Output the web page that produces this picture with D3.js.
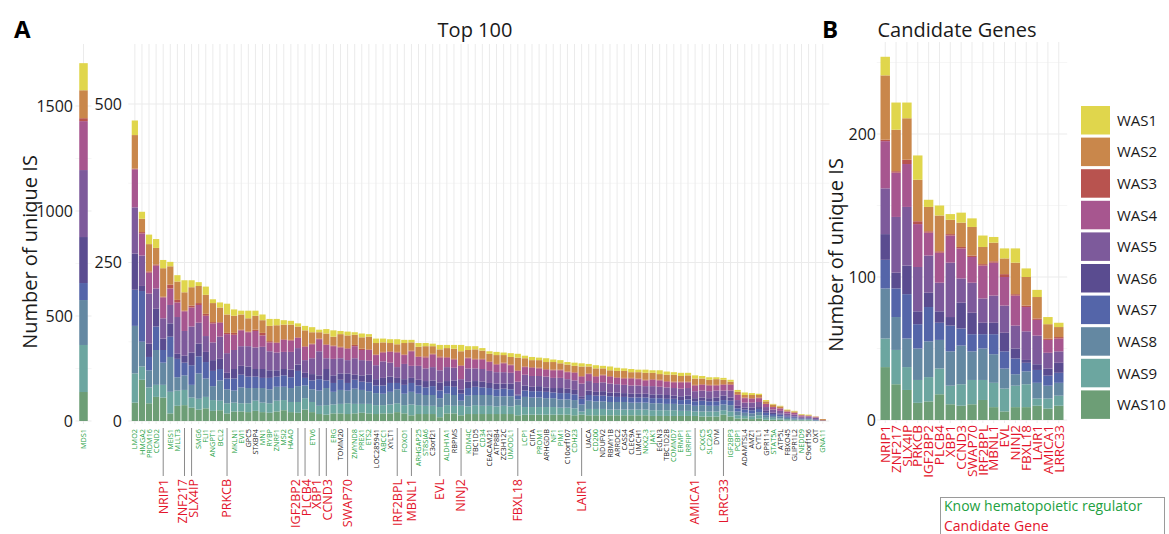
<!DOCTYPE html>
<html><head><meta charset="utf-8">
<script src="https://cdn.jsdelivr.net/npm/d3@7"></script>
<style>body{margin:0;background:#fff;} text{font-family:"Open Sans",sans-serif;}</style>
</head><body><svg id="c" width="1169" height="534"></svg>
<script>
const genes = ["LMO2","HMGA2","PRDM16","CCND2","NRIP1","MEIS1","MLLT3","ZNF217","SLX4IP","SMG6",
"FLI1","ANGPT1","BCL2","PRKCB","MKLN1","EVI1","GPC5","STXBP4","MN1","RYBP",
"ZNRF1","MSI2","HAAO","IGF2BP2","PLCB4","ETV6","XBP1","CCND3","ERG","TOMM20",
"SWAP70","ZMYND8","PREX1","ETS2","LOC285941","ABCC1","XYLT1","IRF2BPL","FOXO1","MBNL1",
"ARHGAP25","ST8SIA6","C3orf21","EVL","ALDH1A1","RBPMS","NINJ2","KDM4C","TBC1D5","CD34",
"CEACAM21","ATP8B4","ZC3H12C","UMODL1","FBXL18","LCP1","CIITA","PROM1","ARHGDIB","NF1",
"PIM1","C10orf107","CDH23","LAIR1","UACA","CD200","NDUFV2","RBMY1B","ARRDC2","CASS4",
"CLEC9A","LIMCH1","NKX2-3","JAK1","EGLN3","TBC1D2B","COMMD7","ERMP1","LRRFIP1","AMICA1",
"CXXC5","SLC2A5","DYM","LRRC33","IGF2BP3","PCBP1","ADAMTSL4","AMZ1","CYTL1","GPR114",
"STAT5A","ATP5L","FBXO45","GLIPR1L2","NEDD9","C9orf156","OXT","GNA11"];
const knownRegulators = ["MDS1","LMO2","HMGA2","PRDM16","CCND2","MEIS1","MLLT3","SMG6","FLI1","ANGPT1","BCL2",
"MKLN1","EVI1","MN1","RYBP","ZNRF1","MSI2","HAAO","ETV6","ERG","ZMYND8","PREX1","ETS2","ABCC1","FOXO1",
"ARHGAP25","ST8SIA6","ALDH1A1","KDM4C","CD34","UMODL1","LCP1","PROM1","NF1","PIM1","CDH23","CD200",
"NKX2-3","JAK1","COMMD7","ERMP1","LRRFIP1","CXXC5","SLC2A5","IGF2BP3","PCBP1","STAT5A","NEDD9","GNA11"];
const candidates = ["NRIP1","ZNF217","SLX4IP","PRKCB","IGF2BP2","PLCB4","XBP1","CCND3","SWAP70","IRF2BPL",
"MBNL1","EVL","NINJ2","FBXL18","LAIR1","AMICA1","LRRC33"];
const seriesNames = ["WAS1","WAS2","WAS3","WAS4","WAS5","WAS6","WAS7","WAS8","WAS9","WAS10"];
const seriesColors = ["#e0d64c","#c9874b","#b8534f","#a7568f","#7d5a9b","#5a4c90","#5465a9","#6488a2","#6ca6a0","#6d9e76"];

const was1 = [23,11,15,14,13,7,10,19,11,6, 13,6,8,17,10,6,12,8,9,11, 10,7,6,5,7,8,4,7,10,5, 6,4,6,4,7,6,6,8,5,4,
 6,5,4,7,5,6,10,6,5,4, 4,5,4,6,6,4,5,4,6,4, 5,4,5,5,4,5,4,6,5,4, 5,4,5,4,6,5,4,5,4,5, 4,4,3,3,3,3,4,3,2,2, 1,1,1,1,1,1,0,0];
const was2 = [53,21,43,26,45,29,29,29,29,27, 30,30,23,29,27,24,21,22,20,24, 27,23,24,17,25,18,10,17,14,20, 20,16,18,20,18,15,13,12,18,13,
 15,16,12,11,14,16,22,12,15,13, 12,14,12,12,20,13,11,12,11,12, 10,11,10,15,11,12,10,9,10,11, 9,10,11,10,9,10,11,9,10,10, 9,8,9,7,4,4,4,5,4,4, 4,3,2,2,1,1,1,2];
const was3 = [1,2,2,2,1,6,4,1,3,3, 3,2,1,2,3,1,1,2,4,2, 1,1,1,1,1,1,1,1,1,1, 1,2,2,1,1,1,1,1,1,1,
 1,2,1,2,1,1,1,1,1,1, 1,1,1,1,1,1,1,1,1,1, 1,1,1,1,1,1,1,1,1,1, 1,1,1,1,1,1,1,1,1,1, 1,1,1,1,1,1,1,1,1,0, 0,0,0,0,0,0,0,0];
const was4 = [60,35,33,36,33,26,23,31,30,28, 32,30,22,30,24,25,22,26,18,14, 15,19,18,16,21,22,19,21,20,17, 18,19,16,17,16,14,17,23,14,23,
 14,17,20,20,15,13,21,16,14,15, 14,12,14,12,17,12,13,12,11,12, 12,11,12,11,11,10,11,11,10,10, 11,10,9,10,10,9,9,10,9,9, 9,9,8,9,9,8,7,6,6,5, 4,4,3,3,2,1,1,0];
const was5 = [73,48,79,32,32,29,58,39,41,33, 25,28,35,31,30,31,32,34,35,30, 28,27,28,26,20,25,38,17,26,24, 21,26,24,22,22,26,22,17,24,19,
 22,20,21,19,22,20,16,21,20,20, 19,18,18,17,20,17,17,16,17,16, 16,15,15,20,15,14,14,14,13,13, 13,13,12,13,12,12,12,12,12,11, 11,11,11,8,11,9,8,8,8,6, 5,4,3,3,2,2,2,1];
const was6 = [57,8,21,28,18,21,8,11,20,20, 16,17,16,9,15,14,16,12,14,12, 10,10,12,10,8,10,6,18,12,10, 15,8,10,12,10,12,10,8,9,8,
 9,10,9,13,8,10,7,10,9,9, 8,9,8,9,2,8,7,8,7,7, 8,7,7,4,7,6,7,6,7,6, 6,6,6,6,6,6,5,6,6,5, 5,5,6,7,5,4,3,4,3,3, 2,2,2,1,1,1,1,0];
const was7 = [57,80,21,37,20,32,29,20,31,27, 26,24,18,17,19,20,18,18,16,18, 16,18,17,24,12,14,18,12,14,16, 12,14,13,14,12,13,14,10,14,14,
 13,12,14,12,12,13,11,12,13,12, 11,11,12,11,6,10,10,10,10,9, 10,10,9,9,9,9,9,9,8,8, 8,8,8,8,8,8,8,7,8,7, 7,7,7,7,7,5,5,5,5,4, 3,3,2,2,1,1,1,0];
const was8 = [75,39,27,55,35,55,21,23,20,40, 29,22,32,22,19,25,24,20,23,22, 22,21,22,25,20,20,24,27,20,22, 20,24,22,20,19,18,20,22,18,20,
 18,17,17,14,18,17,8,17,16,17, 17,16,15,16,9,16,15,15,14,14, 13,13,13,11,13,12,12,12,12,12, 11,11,11,11,11,10,10,10,10,9, 10,9,9,9,10,6,5,5,5,4, 3,3,2,2,1,1,0,0];
const was9 = [46,21,25,19,20,34,24,24,16,17, 18,17,15,16,14,13,14,16,15,15, 17,16,16,17,18,16,13,15,14,15, 17,15,14,15,14,13,14,14,13,17,
 14,13,13,16,13,12,15,12,14,13, 13,12,13,12,16,12,12,12,12,12, 11,11,11,5,10,10,10,9,9,9, 9,9,9,9,9,9,9,8,8,7, 8,8,8,7,8,5,4,4,5,3, 3,2,2,1,1,1,1,0];
const was10 = [29,65,28,38,37,12,24,25,21,18, 20,16,17,12,15,15,14,16,14,13, 15,17,14,13,18,14,11,10,12,12, 11,12,13,12,11,12,12,14,12,9,
 11,11,11,6,12,12,9,11,11,11, 11,11,11,11,9,10,10,10,10,10, 10,10,9,10,9,9,9,9,9,9, 9,9,9,8,8,8,8,8,8,8, 7,7,7,10,7,4,4,3,4,2, 2,2,1,1,1,1,0,0];
// MDS1 (inset, own scale): WAS1..WAS10
const mds1Values = [129,133,14,233,319,219,81,214,224,138];

const mainTicks = [0,250,500];
const insetTicks = [0,500,1000,1500];
const candTicks = [0,100,200];

const series = [was1,was2,was3,was4,was5,was6,was7,was8,was9,was10];
const svg = d3.select("#c");
const GREEN = "#22a041", RED = "#e3142b", GRID = "#ebebeb";
const stackKeys = seriesNames.slice().reverse();
const color = d3.scaleOrdinal().domain(seriesNames).range(seriesColors);

function row(name, vals){ const o={gene:name}; seriesNames.forEach((s,j)=>o[s]=vals[j]); return o; }
const mainRows = genes.map((g,i)=>row(g, series.map(s=>s[i])));
const candRows = candidates.map(c=>mainRows[genes.indexOf(c)]);
const insetRows = [row("MDS1", mds1Values)];
const stack = d3.stack().keys(stackKeys);

function panel(rows, x, y, top, ticks, minor, tickX){
  const g = svg.append("g");
  const x0 = x.range()[0]-3, x1 = x.range()[1]+3;
  minor.forEach(v=>g.append("line").attr("x1",x0).attr("x2",x1).attr("y1",y(v)).attr("y2",y(v)).attr("stroke","#f2f2f2").attr("stroke-width",0.7));
  ticks.forEach(v=>g.append("line").attr("x1",x0).attr("x2",x1).attr("y1",y(v)).attr("y2",y(v)).attr("stroke",GRID).attr("stroke-width",1));
  g.selectAll(".vg").data(rows).join("line").attr("x1",d=>x(d.gene)+x.bandwidth()/2).attr("x2",d=>x(d.gene)+x.bandwidth()/2)
    .attr("y1",top).attr("y2",y(0)+3).attr("stroke",GRID).attr("stroke-width",1);
  g.selectAll(".s").data(stack(rows)).join("g").attr("fill",d=>color(d.key))
    .selectAll("rect").data(d=>d).join("rect")
    .attr("x",d=>x(d.data.gene)).attr("width",x.bandwidth())
    .attr("y",d=>y(d[1])).attr("height",d=>Math.max(0,y(d[0])-y(d[1])));
  g.selectAll(".yt").data(ticks).join("text").attr("x",tickX).attr("y",d=>y(d)).attr("dy","0.36em")
    .attr("text-anchor","end").attr("font-size",16).attr("fill","#1a1a1a").text(d=>d);
  return g;
}

// Inset MDS1
const xIn = d3.scaleBand().domain(["MDS1"]).range([78.5,88.5]).padding(0.08);
const yIn = d3.scaleLinear().domain([0,1500]).range([421,106]);
panel(insetRows, xIn, yIn, 44, insetTicks, [250,750,1250], 73);
svg.append("text").attr("transform",`translate(${xIn("MDS1")+xIn.bandwidth()/2},429) rotate(-90)`).attr("dy","0.35em")
  .attr("text-anchor","end").attr("font-size",7.3).attr("fill",GREEN).text("MDS1");

// Main panel
const x = d3.scaleBand().domain(genes).range([131.3,826.3]).paddingInner(0.12).paddingOuter(0.06);
const y = d3.scaleLinear().domain([0,500]).range([421,104]);
panel(mainRows, x, y, 44, mainTicks, [125,375], 122);
const cx = g=>x(g)+x.bandwidth()/2;
genes.forEach((gn,i)=>{
  if(candidates.includes(gn)){
    const prevC = i>0 && candidates.includes(genes[i-1]);
    const nextC = i<genes.length-1 && candidates.includes(genes[i+1]);
    const nudge = nextC ? -2.2 : (prevC ? 1.6 : 0);
    svg.append("line").attr("x1",cx(gn)).attr("x2",cx(gn)).attr("y1",428).attr("y2",476).attr("stroke","#8a8a8a").attr("stroke-width",1);
    svg.append("text").attr("transform",`translate(${cx(gn)+nudge},479) rotate(-90)`).attr("dy","0.35em")
      .attr("text-anchor","end").attr("font-size",12.5).attr("fill",RED).text(gn);
  } else {
    svg.append("text").attr("transform",`translate(${cx(gn)},429) rotate(-90)`).attr("dy","0.35em")
      .attr("text-anchor","end").attr("font-size",7.3).attr("fill",knownRegulators.includes(gn)?GREEN:"#1a1a1a").text(gn);
  }
});

// Candidate panel
const xC = d3.scaleBand().domain(candidates).range([879.8,1064.2]).paddingInner(0.13).paddingOuter(0.065);
const yC = d3.scaleLinear().domain([0,200]).range([420,134]);
panel(candRows, xC, yC, 42, candTicks, [50,150,250], 876);
candidates.forEach(c=>{
  svg.append("text").attr("transform",`translate(${xC(c)+xC.bandwidth()/2},425) rotate(-90)`).attr("dy","0.35em")
    .attr("text-anchor","end").attr("font-size",13.5).attr("fill",RED).text(c);
});

// Titles
svg.append("text").attr("x",14).attr("y",38).attr("font-size",24).attr("font-weight","bold").text("A");
svg.append("text").attr("x",822).attr("y",38).attr("font-size",24).attr("font-weight","bold").text("B");
svg.append("text").attr("x",475).attr("y",37).attr("text-anchor","middle").attr("font-size",20).attr("fill","#1a1a1a").text("Top 100");
svg.append("text").attr("x",957).attr("y",37).attr("text-anchor","middle").attr("font-size",20).attr("fill","#1a1a1a").text("Candidate Genes");
svg.append("text").attr("transform","translate(30,252) rotate(-90)").attr("dy","0.35em").attr("text-anchor","middle").attr("font-size",20).attr("fill","#1a1a1a").text("Number of unique IS");
svg.append("text").attr("transform","translate(836,255) rotate(-90)").attr("dy","0.35em").attr("text-anchor","middle").attr("font-size",20).attr("fill","#1a1a1a").text("Number of unique IS");

// Legend
const lg = svg.append("g");
seriesNames.forEach((s,i)=>{
  const yy = 106 + i*31.6;
  lg.append("rect").attr("x",1081).attr("y",yy).attr("width",29).attr("height",28.5).attr("fill",color(s));
  lg.append("text").attr("x",1117).attr("y",yy+14.5).attr("dy","0.35em").attr("font-size",15).attr("fill","#1a1a1a").text(s);
});

// Key box
svg.append("rect").attr("x",940.5).attr("y",497.5).attr("width",224).attr("height",44).attr("fill","none").attr("stroke","#9a9a9a");
svg.append("text").attr("x",944).attr("y",511).attr("font-size",14).attr("fill",GREEN).text("Know hematopoietic regulator");
svg.append("text").attr("x",944).attr("y",530.5).attr("font-size",14).attr("fill",RED).text("Candidate Gene");
</script></body></html>
